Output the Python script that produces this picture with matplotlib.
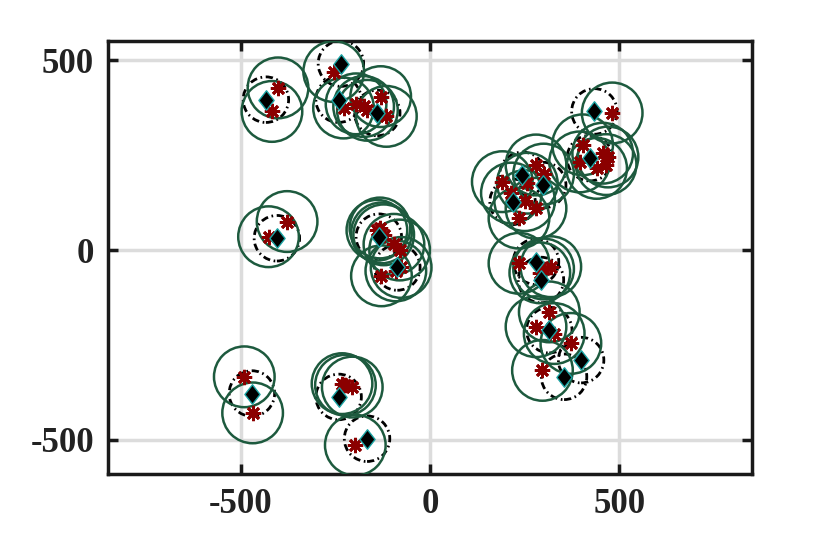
import matplotlib
matplotlib.use("Agg")
import matplotlib.pyplot as plt
from matplotlib.patches import Circle
from matplotlib.path import Path

# red asterisks (sensor / target points)
pts_x = [-401, -417,
         -254,
         -228, -195, -175, -165, -130, -115,
         -377, -426,
         -140, -132, -128, -122, -95, -80, -76, -128, -90,
         -490, -468,
         -232, -223, -205,
         -197,
         481,
         403, 456, 465, 440, 470, 395,
         280, 191, 257, 235, 280, 300, 215, 250,
         235, 319, 290, 300,
         315, 280, 328, 372, 297]
pts_y = [427, 365,
         470,
         374, 385, 378, 368, 404, 352,
         75, 35,
         52, 58, 45, 40, 15, 0, -46, -68, -55,
         -334, -429,
         -352, -356, -361,
         -514,
         361,
         277, 255, 225, 215, 245, 232,
         224, 180, 176, 84, 110, 200, 150, 130,
         -35, -44, -60, -50,
         -163, -202, -220, -246, -317]

# black diamonds (cluster centres)
ctr_x = [-433, -235, -241, -139, -404, -135, -86, -470, -241, -166,
         434, 422, 244, 299, 218, 280, 293, 315, 399, 354]
ctr_y = [396, 491, 396, 361, 31, 35, -46, -378, -387, -497,
         365, 242, 198, 171, 127, -31, -79, -211, -290, -334]

pt_radius = 80
ctr_radius = 60

xticks = [-500, 0, 500]
yticks = [-500, 0, 500]

plt.rcParams["font.family"] = ["Liberation Serif"]
plt.rcParams["font.weight"] = "bold"

fig = plt.figure(figsize=(8.3, 5.35), dpi=100)
ax = fig.add_axes([0.130, 0.114, 0.776, 0.809])
ax.set_xlim(-850, 850)
ax.set_ylim(-590, 550)

green = "#1d5a3e"
for x, y in zip(pts_x, pts_y):
    ax.add_patch(Circle((x, y), pt_radius, fill=False, ec=green, lw=1.8, zorder=3))
for x, y in zip(ctr_x, ctr_y):
    ax.add_patch(Circle((x, y), ctr_radius, fill=False, ec="black", lw=2.0,
                        ls=(0, (2.6, 1.3, 0.6, 1.3)), zorder=2))

diamond = Path([(0, 1), (0.78, 0), (0, -1), (-0.78, 0), (0, 1)],
               [Path.MOVETO, Path.LINETO, Path.LINETO, Path.LINETO, Path.CLOSEPOLY])

ax.plot(pts_x, pts_y, ls="none", marker=(8, 2, 0), color="#8b0000", ms=11, mew=2.0,
        zorder=4)
ax.plot(ctr_x, ctr_y, ls="none", marker=diamond, mfc="black", mec="#1aa3a3",
        ms=14, mew=1.0, zorder=5)

ax.set_xticks(xticks)
ax.set_yticks(yticks)
ax.set_xticklabels([str(v) for v in xticks])
ax.set_yticklabels([str(v) for v in yticks])
ax.grid(True, color="#dcdcdc", lw=2.5, zorder=0)
ax.set_axisbelow(True)
for s in ax.spines.values():
    s.set_linewidth(2.5)
    s.set_color("#1a1a1a")
ax.tick_params(direction="in", length=7, width=2.5, top=True, right=True,
               colors="#1a1a1a", pad=10, labelsize=25, labelcolor="#222222",
               labelfontfamily="Liberation Serif")
for lab in ax.get_xticklabels() + ax.get_yticklabels():
    lab.set_fontweight("bold")

fig.savefig("out.png", dpi=100)
